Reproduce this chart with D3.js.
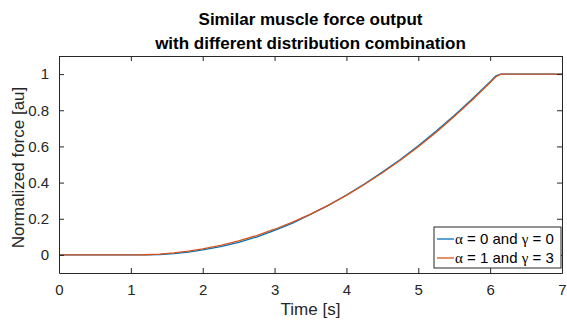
<!DOCTYPE html>
<html>
<head>
<meta charset="utf-8">
<script src="https://cdn.jsdelivr.net/npm/d3@7"></script>
<style>
  body { margin: 0; background: #fff; }
  text { font-family: "Liberation Sans", Arial, sans-serif; fill: #262626; }
</style>
</head>
<body>
<div id="chart"></div>
<script>
// time samples [s]
const time = [0, 0.5, 1, 1.1, 1.2, 1.4, 1.6, 1.8, 2, 2.25, 2.5, 2.75, 3, 3.25, 3.5,
  3.75, 4, 4.25, 4.5, 4.75, 5, 5.25, 5.5, 5.75, 6, 6.08, 6.15, 6.5, 7];
// alpha = 0, gamma = 0
const forceA = [0, 0, 0, 0, 0, 0.002, 0.007, 0.016, 0.028, 0.046, 0.070, 0.099, 0.136, 0.176, 0.224,
  0.274, 0.331, 0.392, 0.458, 0.528, 0.604, 0.685, 0.771, 0.862, 0.958, 0.99, 1, 1, 1];
// alpha = 1, gamma = 3
const forceB = [0, 0, 0, 0, 0.001, 0.004, 0.011, 0.021, 0.034, 0.053, 0.078, 0.107, 0.142, 0.181, 0.226,
  0.275, 0.329, 0.389, 0.454, 0.523, 0.598, 0.679, 0.766, 0.857, 0.953, 0.985, 1, 1, 1];
const xTicks = [0, 1, 2, 3, 4, 5, 6, 7];
const yTicks = [0, 0.2, 0.4, 0.6, 0.8, 1];

const width = 567, height = 324;
const margin = { top: 56, right: 5, bottom: 51, left: 59 };
const w = width - margin.left - margin.right;
const h = height - margin.top - margin.bottom;

const svg = d3.select('#chart').append('svg')
  .attr('width', width)
  .attr('height', height);

const g = svg.append('g')
  .attr('transform', `translate(${margin.left},${margin.top})`);

const x = d3.scaleLinear().domain([0, 7]).range([0, w]);
const y = d3.scaleLinear().domain([-0.1, 1.1]).range([h, 0]);

// data lines
const line = d3.line().x(d => x(d[0])).y(d => y(d[1]));
const series = [
  { data: d3.zip(time, forceA), color: '#0072BD' },
  { data: d3.zip(time, forceB), color: '#D95319' }
];
g.selectAll('.series')
  .data(series)
  .enter()
  .append('path')
  .attr('class', 'series')
  .attr('d', d => line(d.data))
  .attr('fill', 'none')
  .attr('stroke', d => d.color)
  .attr('stroke-width', 1.3);

// axes, ticks pointing in, mirrored on every side (box on)
const tick = 5;
const axisStyle = sel => {
  sel.select('.domain').attr('stroke', '#262626');
  sel.selectAll('.tick line').attr('stroke', '#262626');
};
g.append('g')
  .attr('transform', `translate(0,${h})`)
  .call(d3.axisBottom(x).tickValues(xTicks).tickSizeInner(-tick).tickSizeOuter(0).tickPadding(11)
    .tickFormat(d3.format('d')))
  .call(axisStyle)
  .call(s => s.selectAll('text').style('font-size', '15px').attr('fill', '#262626'));
g.append('g')
  .call(d3.axisTop(x).tickValues(xTicks).tickSizeInner(-tick).tickSizeOuter(0).tickFormat(''))
  .call(axisStyle);
g.append('g')
  .call(d3.axisLeft(y).tickValues(yTicks).tickSizeInner(-tick).tickSizeOuter(0).tickPadding(10)
    .tickFormat(d3.format('~g')))
  .call(axisStyle)
  .call(s => s.selectAll('text').style('font-size', '15px').attr('fill', '#262626'));
g.append('g')
  .attr('transform', `translate(${w},0)`)
  .call(d3.axisRight(y).tickValues(yTicks).tickSizeInner(-tick).tickSizeOuter(0).tickFormat(''))
  .call(axisStyle);

// labels
svg.append('text')
  .attr('x', margin.left + w / 2)
  .attr('y', 315)
  .attr('text-anchor', 'middle')
  .style('font-size', '17px')
  .text('Time [s]');
svg.append('text')
  .attr('transform', `translate(24,${margin.top + h / 2 + 3}) rotate(-90)`)
  .attr('text-anchor', 'middle')
  .style('font-size', '17px')
  .text('Normalized force [au]');

const title = svg.append('text')
  .attr('text-anchor', 'middle')
  .style('font-size', '17px')
  .style('font-weight', 'bold')
  .style('fill', '#000');
title.append('tspan').attr('x', margin.left + w / 2).attr('y', 25).text('Similar muscle force output');
title.append('tspan').attr('x', margin.left + w / 2).attr('y', 49).text('with different distribution combination');

// legend
const legendNames = [['0', '0'], ['1', '3']];
const lg = g.append('g').attr('transform', `translate(${w - 128},${h - 46})`);
lg.append('rect')
  .attr('width', 127).attr('height', 41)
  .attr('fill', '#fff').attr('stroke', '#262626').attr('stroke-width', 1);
legendNames.forEach((n, i) => {
  const yy = 12 + i * 19;
  lg.append('line')
    .attr('x1', 3).attr('x2', 20).attr('y1', yy).attr('y2', yy)
    .attr('stroke', series[i].color).attr('stroke-width', 1.3);
  const t = lg.append('text')
    .attr('x', 21).attr('y', yy + 5)
    .style('font-size', '15px')
    .style('fill', '#000');
  t.append('tspan').style('font-family', '"Liberation Serif", serif').text('\u03b1');
  t.append('tspan').text(` = ${n[0]} and `);
  t.append('tspan').style('font-family', '"Liberation Serif", serif').text('\u03b3');
  t.append('tspan').text(` = ${n[1]}`);
});
</script>
</body>
</html>
